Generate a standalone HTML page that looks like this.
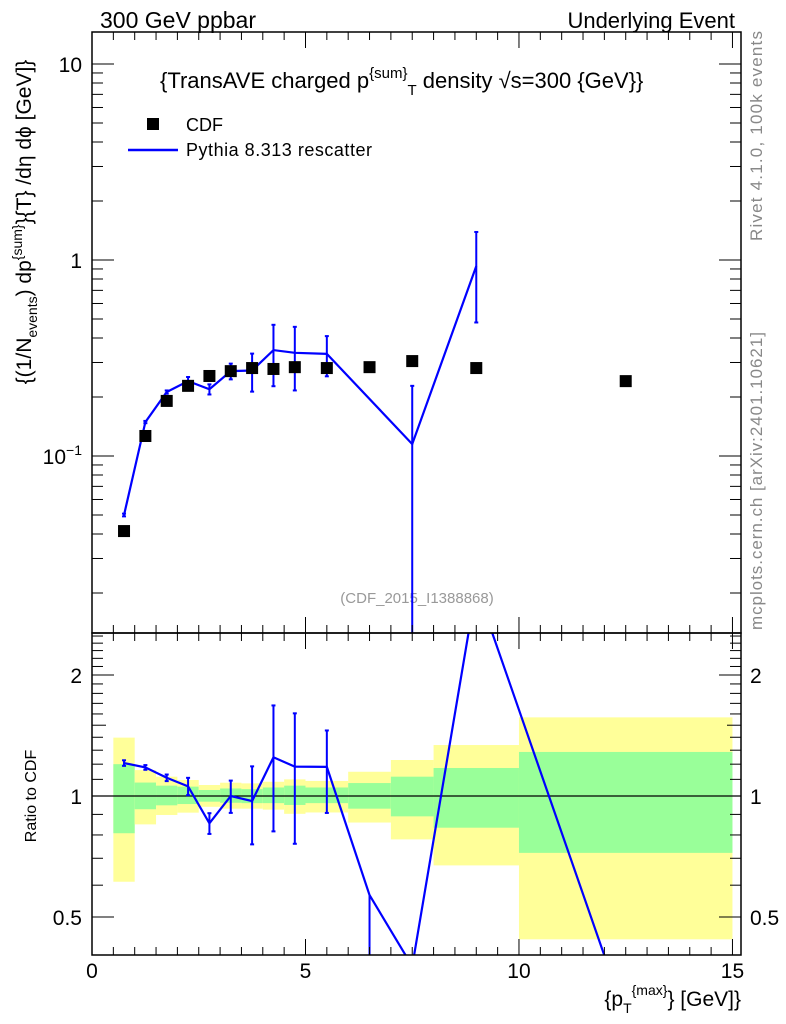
<!DOCTYPE html>
<html><head><meta charset="utf-8"><style>
html,body{margin:0;padding:0;background:#fff;}
svg{display:block;font-family:"Liberation Sans",sans-serif;}
</style></head><body>
<svg id="chart" width="786" height="1024" viewBox="0 0 786 1024" xmlns="http://www.w3.org/2000/svg">
<text x="100" y="28" font-size="23">300 GeV ppbar</text>
<text x="735" y="28" font-size="22" text-anchor="end">Underlying Event</text>
<text x="160" y="88" font-size="22">{TransAVE charged p<tspan dy="-10" font-size="15">{sum}</tspan><tspan dy="17" font-size="15">T</tspan><tspan dy="-7"> density √s=300 {GeV}}</tspan></text>
<rect x="147" y="118" width="12" height="12" fill="#000"/>
<text x="186" y="131" font-size="18">CDF</text>
<line x1="128" y1="150" x2="178" y2="150" stroke="#0000ff" stroke-width="2.5"/>
<text x="186" y="156" font-size="18" textLength="186">Pythia 8.313 rescatter</text>
<text x="417" y="603" font-size="15" fill="#999" text-anchor="middle">(CDF_2015_I1388868)</text>
<text transform="translate(762,241) rotate(-90)" font-size="17" fill="#888" textLength="210">Rivet 4.1.0,  100k events</text>
<text transform="translate(762,630) rotate(-90)" font-size="17" fill="#888" textLength="298">mcplots.cern.ch [arXiv:2401.10621]</text>
<text transform="translate(31,222) rotate(-90)" font-size="21" text-anchor="middle">{(1/N<tspan dy="6" font-size="14">events</tspan><tspan dy="-6">) dp</tspan><tspan dy="-9" font-size="14">{sum}</tspan><tspan dy="9">}{T} /dη  dϕ [GeV]}</tspan></text>
<text transform="translate(36,796) rotate(-90)" font-size="16" text-anchor="middle">Ratio to CDF</text>
<text x="741" y="1006" font-size="21" text-anchor="end">{p<tspan dy="7" font-size="14">T</tspan><tspan dy="-18" font-size="14">{max}</tspan><tspan dy="11">} [GeV]}</tspan></text>
<g id="g"></g>
</svg>
<script>
const xCenters=[0.75,1.25,1.75,2.25,2.75,3.25,3.75,4.25,4.75,5.5,6.5,7.5,9,12.5];
const binEdges=[0.5,1,1.5,2,2.5,3,3.5,4,4.5,5,6,7,8,10,15];
const cdfVals=[0.0414,0.1265,0.191,0.228,0.256,0.271,0.281,0.278,0.284,0.281,0.284,0.305,0.281,0.241];
const mcVals=[0.0500,0.149,0.212,0.241,0.219,0.271,0.273,0.347,0.336,0.332,0.161,0.115,0.93,0.068];
const mcErrUp=[0.0008,0.002,0.004,0.012,0.013,0.025,0.06,0.12,0.12,0.077,0,0.113,0.46,0];
const mcErrDn=[0.0008,0.002,0.004,0.012,0.013,0.025,0.06,0.12,0.12,0.077,0.161,0.115,0.45,0];
const mcInMain=[1,1,1,1,1,1,1,1,1,1,0,1,1,0];
const statHi=[1.20,1.08,1.061,1.055,1.035,1.044,1.04,1.05,1.061,1.05,1.077,1.117,1.174,1.287];
const statLo=[0.808,0.927,0.948,0.955,0.968,0.962,0.96,0.96,0.95,0.96,0.93,0.89,0.834,0.722];
const totHi=[1.397,1.16,1.117,1.096,1.065,1.079,1.075,1.085,1.10,1.09,1.149,1.229,1.339,1.569];
const totLo=[0.612,0.85,0.897,0.909,0.94,0.93,0.93,0.925,0.903,0.91,0.859,0.78,0.672,0.44];
const xTickLabels=["0","5","10","15"];
const mainYLabels=["10","1","10⁻¹"];
const ratioYLabels=["0.5","1","2"];

const NS="http://www.w3.org/2000/svg";
const g=document.getElementById('g');
const L=92,R=741,T1=32,B1=633,B2=955,XMAX=15.2;
const X=v=>L+v/XMAX*(R-L);
const Y1=v=>456-(Math.log10(v)+1)*196;
const Y2=v=>796-Math.log10(v)*402;
function mk(tag,attrs,name){const e=document.createElementNS(NS,tag);for(const k in attrs)e.setAttribute(k,attrs[k]);


g.appendChild(e);return e;}
const clipR=(v)=>Math.max(B1,Math.min(B2,v));
const clipM=(v)=>Math.max(T1,Math.min(B1,v));

for(let i=0;i<xCenters.length;i++){
  const x0=X(binEdges[i]),x1=X(binEdges[i+1]);
  const yt=clipR(Y2(totHi[i])),yb=clipR(Y2(totLo[i]));
  mk('rect',{x:x0,y:yt,width:x1-x0,height:yb-yt,fill:'#ffff99'},'total-band-'+i);
  const st=clipR(Y2(statHi[i])),sb=clipR(Y2(statLo[i]));
  mk('rect',{x:x0,y:st,width:x1-x0,height:sb-st,fill:'#99ff99'},'stat-band-'+i);
}
mk('line',{x1:L,x2:R,y1:Y2(1),y2:Y2(1),stroke:'#000','stroke-width':1.2},'ratio-unity-line');

const defs=document.createElementNS(NS,'defs');g.appendChild(defs);
defs.innerHTML='<clipPath id="c1"><rect x="92" y="32" width="649" height="601"/></clipPath><clipPath id="c2"><rect x="92" y="633" width="649" height="322"/></clipPath>';

let pts=[];
for(let i=0;i<xCenters.length;i++){ if(mcInMain[i]) pts.push(X(xCenters[i])+','+Y1(mcVals[i])); }
mk('polyline',{points:pts.join(' '),fill:'none',stroke:'#0000ff','stroke-width':2.2,'clip-path':'url(#c1)'},'pythia-line');
for(let i=0;i<xCenters.length;i++){ if(!mcInMain[i]) continue;
  const x=X(xCenters[i]);const hi=clipM(Y1(mcVals[i]+mcErrUp[i]));const lov=mcVals[i]-mcErrDn[i];const lo=lov>0?clipM(Y1(lov)):B1;
  mk('line',{x1:x,x2:x,y1:hi,y2:lo,stroke:'#0000ff','stroke-width':2},'pythia-errbar-'+i);
  mk('line',{x1:x-2,x2:x+2,y1:hi,y2:hi,stroke:'#0000ff','stroke-width':2},'pythia-errcap-hi-'+i);
  if(lov>0) mk('line',{x1:x-2,x2:x+2,y1:lo,y2:lo,stroke:'#0000ff','stroke-width':2},'pythia-errcap-lo-'+i);
}
for(let i=0;i<xCenters.length;i++){
  mk('rect',{x:X(xCenters[i])-6,y:Y1(cdfVals[i])-6,width:12,height:12,fill:'#000'},'cdf-point-'+i);
}
pts=[];
for(let i=0;i<xCenters.length;i++) pts.push(X(xCenters[i])+','+Y2(mcVals[i]/cdfVals[i]));
mk('polyline',{points:pts.join(' '),fill:'none',stroke:'#0000ff','stroke-width':2.2,'clip-path':'url(#c2)'},'ratio-pythia-line');
for(let i=0;i<xCenters.length;i++){
  const r=mcVals[i]/cdfVals[i];const x=X(xCenters[i]);const yp=Y2(r);
  if(yp<B1||yp>B2) continue;
  const eu=mcErrUp[i]/cdfVals[i],ed=mcErrDn[i]/cdfVals[i];
  const hiR=Y2(r+eu),lov=r-ed;const loR=lov>0?Y2(lov):B2+10;
  const hi=clipR(hiR),lo=clipR(loR);
  mk('line',{x1:x,x2:x,y1:hi,y2:lo,stroke:'#0000ff','stroke-width':2},'ratio-errbar-'+i);
  if(eu>0) mk('line',{x1:x-2,x2:x+2,y1:hi,y2:hi,stroke:'#0000ff','stroke-width':2},'ratio-errcap-hi-'+i);
  if(loR<=B2) mk('line',{x1:x-2,x2:x+2,y1:lo,y2:lo,stroke:'#0000ff','stroke-width':2},'ratio-errcap-lo-'+i);
}

mk('rect',{x:L,y:T1,width:R-L,height:B1-T1,fill:'none',stroke:'#000','stroke-width':1.5},'main-frame');
mk('rect',{x:L,y:B1,width:R-L,height:B2-B1,fill:'none',stroke:'#000','stroke-width':1.5},'ratio-frame');

for(let k=0;k<=30;k++){const v=k*0.5,x=X(v);const len=(k%10===0)?16:8;
  [[T1,1],[B1,-1],[B1,1],[B2,-1]].forEach((p,j)=>mk('line',{x1:x,x2:x,y1:p[0],y2:p[0]+p[1]*len,stroke:'#000','stroke-width':1},'x-tick-'+k+'-'+j));
}
xTickLabels.forEach((t,i)=>{const e=mk('text',{x:X(i*5),y:978,'font-size':21,'text-anchor':'middle'},'x-tick-label-'+t);e.textContent=t;});

for(let d=-2;d<=1;d++){for(let m=1;m<=9;m++){const v=m*Math.pow(10,d);const y=Y1(v);if(y<T1||y>B1)continue;
  const len=m===1?22:11;
  mk('line',{x1:L,x2:L+len,y1:y,y2:y,stroke:'#000','stroke-width':1},'main-y-tick');
  mk('line',{x1:R,x2:R-len,y1:y,y2:y,stroke:'#000','stroke-width':1},'main-y-tick-right');
}}
[10,1,0.1].forEach((v,i)=>{const e=mk('text',{x:82,y:Y1(v)+8,'font-size':21,'text-anchor':'end'},'main-y-label-'+i);
  if(i<2)e.textContent=mainYLabels[i];else e.innerHTML='10<tspan dy="-9" font-size="14">−1</tspan>';});

for(let k=4;k<=25;k++){const v=k/10;const y=Y2(v);if(y<B1||y>B2)continue;
  const len=(k===5||k===10||k===20)?22:(k===15?14:11);
  mk('line',{x1:L,x2:L+len,y1:y,y2:y,stroke:'#000','stroke-width':1},'ratio-y-tick');
  mk('line',{x1:R,x2:R-len,y1:y,y2:y,stroke:'#000','stroke-width':1},'ratio-y-tick-right');
}
[0.5,1,2].forEach((v,i)=>{
  let e=mk('text',{x:82,y:Y2(v)+8,'font-size':21,'text-anchor':'end'},'ratio-y-label-'+i);e.textContent=ratioYLabels[i];
  e=mk('text',{x:750,y:Y2(v)+8,'font-size':21},'ratio-y-label-right-'+i);e.textContent=ratioYLabels[i];
});
</script>
</body></html>
